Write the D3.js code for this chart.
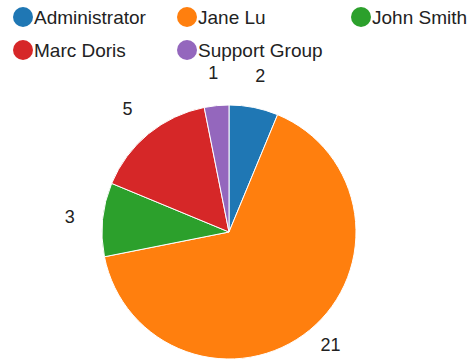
<!DOCTYPE html>
<html>
<head>
<meta charset="utf-8">
<script src="https://cdn.jsdelivr.net/npm/d3@7"></script>
<style>
  body { margin: 0; background: #fff; }
  text { font-family: "Liberation Sans", Arial, sans-serif; }
</style>
</head>
<body>
<div id="chart"></div>
<script>
// pie of tickets per assignee

const names = ["Administrator", "Jane Lu", "John Smith", "Marc Doris", "Support Group"];
const counts = [2, 21, 3, 5, 1];
const colors = ["#1f77b4", "#ff7f0e", "#2ca02c", "#d62728", "#9467bd"];

const width = 469, height = 363;
const cx = 229, cy = 232, radius = 127;

const data = names.map((n, i) => ({ name: n, value: counts[i] }));

const svg = d3.select("#chart").append("svg")
    .attr("width", width)
    .attr("height", height);

const color = d3.scaleOrdinal().domain(names).range(colors);

// legend, 3 per row
const legendX = d3.scaleOrdinal().domain([0, 1, 2]).range([23, 187, 361]);
const legendY = d3.scalePoint().domain([0, 1]).range([17, 50]);

const legend = svg.append("g")
    .selectAll("g")
    .data(data)
    .join("g")
    .attr("transform", (d, i) => `translate(${legendX(i % 3)},${legendY(Math.floor(i / 3))})`);

legend.append("circle")
    .attr("r", 10)
    .attr("fill", d => color(d.name));

legend.append("text")
    .attr("x", 11)
    .attr("dy", "0.36em")
    .attr("font-size", 19)
    .attr("fill", "#222")
    .text(d => d.name);

// pie
const pie = d3.pie().sort(null).value(d => d.value);
const arc = d3.arc().innerRadius(0).outerRadius(radius);
const arcs = pie(data);

const g = svg.append("g")
    .attr("transform", `translate(${cx},${cy})`);

g.selectAll("path")
    .data(arcs)
    .join("path")
    .attr("d", arc)
    .attr("fill", d => color(d.data.name))
    .attr("stroke", "#fff")
    .attr("stroke-width", 1);

// value labels outside the slices
const labelR = 160;
g.selectAll("text.lbl")
    .data(arcs)
    .join("text")
    .attr("class", "lbl")
    .attr("text-anchor", "middle")
    .attr("dy", "0.36em")
    .attr("font-size", 18)
    .attr("fill", "#222")
    .attr("x", d => {
        const a = (d.startAngle + d.endAngle) / 2;
        return labelR * Math.sin(a);
    })
    .attr("y", d => {
        const a = (d.startAngle + d.endAngle) / 2;
        // keep inside the bottom of the chart area
        return Math.min(-labelR * Math.cos(a), height - cy - 18);
    })
    .text(d => d.data.value);
</script>
</body>
</html>
